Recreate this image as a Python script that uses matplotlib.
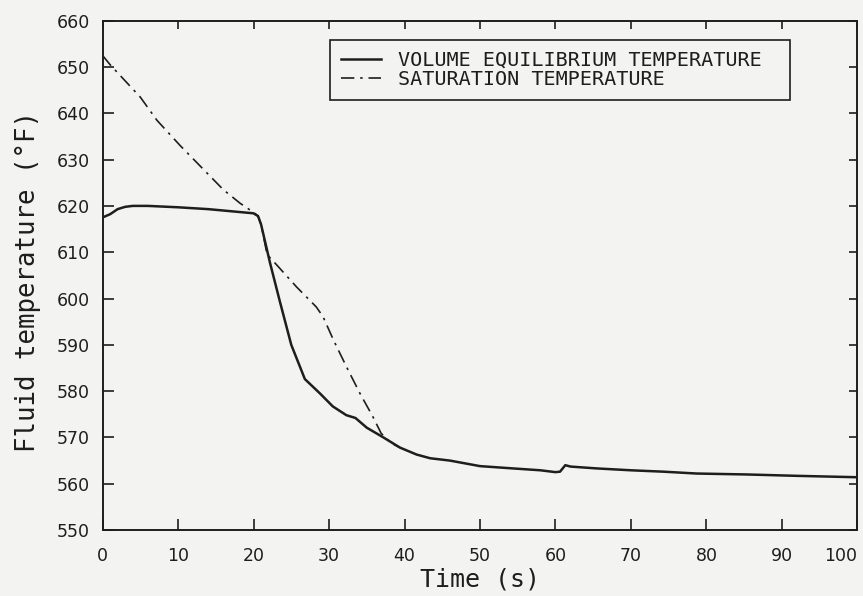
import numpy as np
import matplotlib.pyplot as plt

# Volume equilibrium temperature (F) vs time (s)
t_vol = [0, 1, 2, 3, 4, 6, 10, 14, 18, 20, 20.6, 21, 22.2, 23.5, 25, 26.8,
         28.8, 30.5, 32.3, 33.5, 35, 37.2, 39.4, 41.6, 43.4, 46, 50, 54.4,
         58, 60, 60.6, 61.3, 62, 65.5, 70, 74.3, 78.7, 85.3, 92, 100]
T_vol = [617.5, 618.2, 619.3, 619.8, 620.0, 620.0, 619.7, 619.3, 618.7, 618.4,
         617.8, 616.0, 607.6, 599.3, 590.0, 582.6, 579.5, 576.7, 574.8, 574.2,
         572.1, 570.0, 567.8, 566.3, 565.5, 565.0, 563.8, 563.3, 562.9, 562.5,
         562.6, 564.0, 563.7, 563.3, 562.9, 562.6, 562.2, 562.0, 561.7, 561.4]

# Saturation temperature (F) vs time (s)
t_sat = [0, 1, 3, 5, 7.2, 10.3, 13, 16, 18.2, 20, 20.6, 21, 21.8, 23.1, 25.7,
         28.3, 29.2, 30.6, 32.3, 34.1, 35.8, 36.9, 38.2, 39.4]
T_sat = [652.5, 650.5, 647.0, 643.5, 638.5, 633.0, 628.5, 623.5, 620.6, 618.6,
         617.8, 616.0, 609.5, 607.2, 602.5, 598.2, 596.1, 591.0, 585.3, 579.5,
         574.5, 570.9, 568.8, 567.8]

x_ticks = np.arange(0, 101, 10)
y_ticks = np.arange(550, 661, 10)

ink = '#1e1e1e'
paper = '#f3f3f1'

fig = plt.figure(figsize=(8.63, 5.96), dpi=100, facecolor=paper)
ax = fig.add_axes([0.1188, 0.1107, 0.8748, 0.8546], facecolor=paper)

ax.plot(t_vol, T_vol, color=ink, lw=1.8, label='VOLUME EQUILIBRIUM TEMPERATURE')
ax.plot(t_sat, T_sat, color=ink, lw=1.2, dashes=(8, 3.5, 1.5, 3.5),
        label='SATURATION TEMPERATURE')

ax.set_xlim(0, 100)
ax.set_ylim(550, 660)
ax.set_xticks(x_ticks)
ax.set_yticks(y_ticks)

for s in ax.spines.values():
    s.set_linewidth(1.4)
    s.set_color(ink)

ax.tick_params(axis='both', which='major', direction='in', color=ink,
               width=1.2, labelsize=12.5, labelcolor=ink)
ax.tick_params(axis='x', length=8, pad=12)
ax.tick_params(axis='y', length=8, pad=9)
ax.tick_params(top=True, right=True)
for tk in ax.xaxis.get_major_ticks():
    tk.tick2line.set_markersize(6)
for tk in ax.yaxis.get_major_ticks():
    tk.tick2line.set_markersize(6)
# keep the last x label inside the figure
ax.get_xticklabels()[-1].set_horizontalalignment('right')

ax.set_xlabel('Time (s)', family='DejaVu Sans Mono', fontsize=18, color=ink,
              labelpad=2)
ax.set_ylabel('Fluid temperature (°F)', family='DejaVu Sans Mono',
              fontsize=18.5, color=ink)
ax.yaxis.set_label_coords(-0.082, 0.487)

leg = ax.legend(loc='upper left', bbox_to_anchor=(0.301, 0.844, 0.609, 0.118),
                mode='expand', prop={'family': 'DejaVu Sans Mono', 'size': 14.5},
                frameon=True, fancybox=False, handlelength=2.0,
                handletextpad=0.85, borderpad=0.55, labelspacing=0.0,
                borderaxespad=0)
leg.get_frame().set_edgecolor(ink)
leg.get_frame().set_linewidth(1.2)
leg.get_frame().set_facecolor(paper)
leg.get_frame().set_alpha(1)
for txt in leg.get_texts():
    txt.set_color(ink)

fig.savefig('out.png', dpi=100, facecolor=paper)
